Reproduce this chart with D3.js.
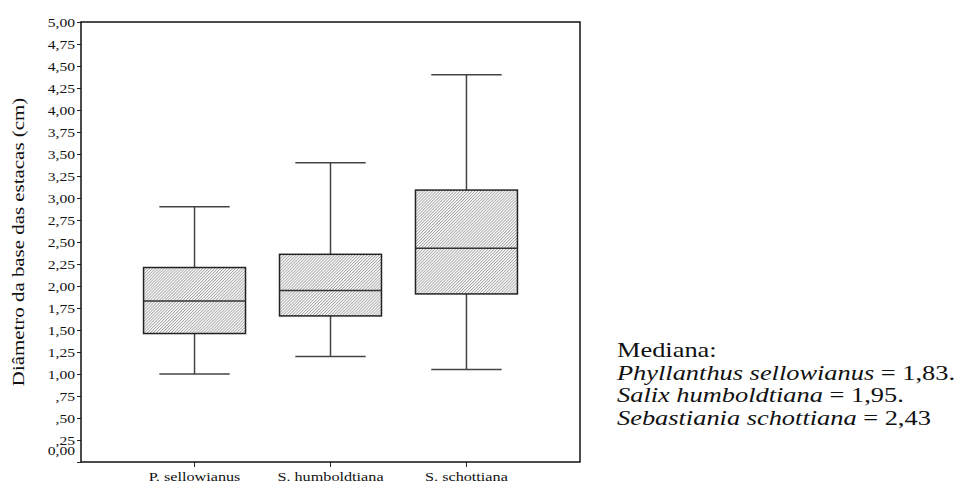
<!DOCTYPE html>
<html>
<head>
<meta charset="utf-8">
<script src="https://cdn.jsdelivr.net/npm/d3@7"></script>
<style>
  body { margin: 0; background: #fff; }
  text { font-family: "Liberation Serif", "Times New Roman", serif; fill: #111; }
</style>
</head>
<body>
<svg width="962" height="484"></svg>
<script>
// data
var categories = ["P. sellowianus", "S. humboldtiana", "S. schottiana"];
var whiskerLow = [1.00, 1.20, 1.05];
var q1 = [1.46, 1.66, 1.91];
var median = [1.83, 1.95, 2.43];
var q3 = [2.21, 2.36, 3.09];
var whiskerHigh = [2.90, 3.40, 4.40];
var yTicks = d3.range(0, 5.001, 0.25);
var legendTitle = "Mediana:";
var legendNames = ["Phyllanthus sellowianus", "Salix humboldtiana", "Sebastiania schottiana"];
var legendValues = [" = 1,83.", " = 1,95.", " = 2,43"];

var margin = {top: 22, right: 382, bottom: 22, left: 81};
var svg = d3.select("svg"),
    width = +svg.attr("width"),
    height = +svg.attr("height");
var innerWidth = width - margin.left - margin.right;
var innerHeight = height - margin.top - margin.bottom;
var sx = 1.2; // the original type is a bit wide

var x = d3.scaleBand()
    .domain(categories)
    .range([margin.left, margin.left + innerWidth])
    .paddingInner(0.25)
    .paddingOuter(0.46);

var y = d3.scaleLinear()
    .domain([0, 5])
    .range([margin.top + innerHeight, margin.top]);

var fmt = function(v) {
  var s = d3.format(".2f")(v).replace(".", ",");
  return v > 0 && v < 1 ? s.slice(1) : s;
};

// fine hatch for the boxes
var hs = 2.1;
var pat = svg.append("defs").append("pattern")
    .attr("id", "hatch")
    .attr("patternUnits", "userSpaceOnUse")
    .attr("width", hs)
    .attr("height", hs)
    .attr("patternTransform", "rotate(45)");
pat.append("rect").attr("width", hs).attr("height", hs).attr("fill", "#fff");
pat.append("line")
    .attr("x1", 0.5).attr("y1", 0).attr("x2", 0.5).attr("y2", hs)
    .attr("stroke", "#8c8c8c").attr("stroke-width", 0.7);

var data = categories.map(function(c, i) {
  return {name: c, lo: whiskerLow[i], q1: q1[i], med: median[i], q3: q3[i], hi: whiskerHigh[i]};
});

// axes
var yAxis = svg.append("g")
    .attr("transform", "translate(" + margin.left + ",0)")
    .call(d3.axisLeft(y).tickValues(yTicks).tickSize(4).tickFormat(fmt));
yAxis.select(".domain").remove();
yAxis.selectAll(".tick line").attr("stroke", "#222");
yAxis.selectAll(".tick text")
    .attr("x", null).attr("dy", null)
    .attr("text-anchor", "end")
    .attr("font-size", 13)
    .attr("transform", function(d) { return "translate(-6," + (d === 0 ? -8 : 4.5) + ") scale(" + sx + ",1)"; });

var xAxis = svg.append("g")
    .attr("transform", "translate(0," + (margin.top + innerHeight) + ")")
    .call(d3.axisBottom(x).tickSize(5));
xAxis.select(".domain").remove();
xAxis.selectAll(".tick line").attr("stroke", "#222");
xAxis.selectAll(".tick text")
    .attr("y", null).attr("dy", null)
    .attr("font-size", 13.5)
    .attr("transform", "translate(0,19) scale(" + sx + ",1)");

// frame
svg.append("rect")
    .attr("x", margin.left)
    .attr("y", margin.top)
    .attr("width", innerWidth)
    .attr("height", innerHeight)
    .attr("fill", "none")
    .attr("stroke", "#111")
    .attr("stroke-width", 1.5);

// boxes
var bw = x.bandwidth();
var capW = bw * 0.69;
var box = svg.selectAll("g.box")
  .data(data)
  .enter().append("g")
    .attr("class", "box")
    .attr("transform", function(d) { return "translate(" + (x(d.name) + bw / 2) + ",0)"; });

box.append("line")
    .attr("x1", 0).attr("x2", 0)
    .attr("y1", function(d) { return y(d.hi); })
    .attr("y2", function(d) { return y(d.lo); })
    .attr("stroke", "#444").attr("stroke-width", 1.5);

box.selectAll("line.cap")
  .data(function(d) { return [d.lo, d.hi]; })
  .enter().append("line")
    .attr("class", "cap")
    .attr("x1", -capW / 2).attr("x2", capW / 2)
    .attr("y1", function(v) { return y(v); })
    .attr("y2", function(v) { return y(v); })
    .attr("stroke", "#444").attr("stroke-width", 1.5);

box.append("rect")
    .attr("x", -bw / 2)
    .attr("width", bw)
    .attr("y", function(d) { return y(d.q3); })
    .attr("height", function(d) { return y(d.q1) - y(d.q3); })
    .attr("fill", "url(#hatch)")
    .attr("stroke", "#222").attr("stroke-width", 1.5);

box.append("line")
    .attr("x1", -bw / 2).attr("x2", bw / 2)
    .attr("y1", function(d) { return y(d.med); })
    .attr("y2", function(d) { return y(d.med); })
    .attr("stroke", "#333").attr("stroke-width", 1.5);

// y title
svg.append("text")
    .attr("transform", "translate(24," + (margin.top + innerHeight / 2) + ") rotate(-90) scale(1.23,1)")
    .attr("text-anchor", "middle")
    .attr("font-size", 17)
    .text("Diâmetro da base das estacas (cm)");

// median note
var note = svg.append("g").attr("transform", "translate(617,357)");
note.append("text")
    .attr("font-size", 22)
    .attr("transform", "scale(1.2,1)")
    .text(legendTitle);
legendNames.forEach(function(n, i) {
  var t = note.append("text")
      .attr("font-size", 22)
      .attr("transform", "translate(0," + ((i + 1) * 22.7) + ") scale(1.2,1)");
  t.append("tspan").attr("font-style", "italic").text(n);
  t.append("tspan").text(legendValues[i]);
});
</script>
</body>
</html>
